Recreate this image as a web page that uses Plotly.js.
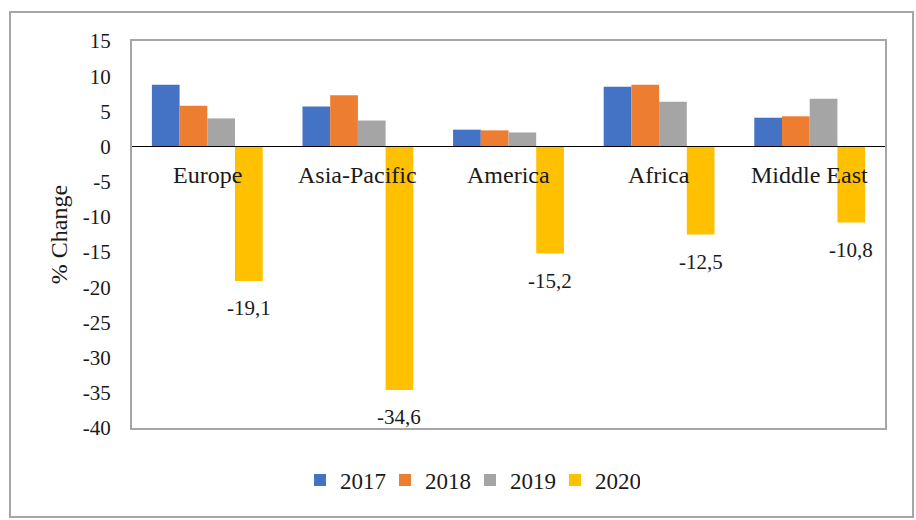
<!DOCTYPE html>
<html>
<head>
<meta charset="utf-8">
<script src="https://cdn.plot.ly/plotly-3.0.1.min.js"></script>
<style>
  html, body { margin: 0; padding: 0; background: #fff; }
  #wrap { position: relative; width: 916px; height: 520px; }
  #chart { width: 916px; height: 520px; }
  #frame { position: absolute; left: 9px; top: 11px; width: 901px; height: 503px;
           border: 2px solid #a6a6a6; pointer-events: none; }
</style>
</head>
<body>
<div id="wrap">
  <div id="chart"></div>
  <div id="frame"></div>
</div>
<script>
const categories = ["Europe", "Asia-Pacific", "America", "Africa", "Middle East"];
const years = ["2017", "2018", "2019", "2020"];
const v2017 = [8.8, 5.7, 2.4, 8.5, 4.1];
const v2018 = [5.8, 7.3, 2.3, 8.8, 4.3];
const v2019 = [4.0, 3.7, 2.0, 6.35, 6.8];
const v2020 = [-19.1, -34.6, -15.2, -12.5, -10.8];
const tickVals = [15, 10, 5, 0, -5, -10, -15, -20, -25, -30, -35, -40];
const tickText = ["15", "10", "5", "0", "-5", "-10", "-15", "-20", "-25", "-30", "-35", "-40"];

const colors = ["#4472C4", "#ED7D31", "#A5A5A5", "#FFC000"];
const series = [v2017, v2018, v2019, v2020];
const FONT = "Liberation Serif, Times New Roman, serif";
const TXT = "#1a1a1a";

const W = 916, H = 520;
const margin = { l: 132, r: 31, t: 41, b: 92 };
const bargap = 0.264;

const traces = series.map((vals, i) => ({
  type: "bar",
  name: years[i],
  x: categories,
  y: vals,
  marker: { color: colors[i], line: { width: 0 } },
  hoverinfo: "x+y+name"
}));

const plotW = W - margin.l - margin.r;
const plotH = H - margin.t - margin.b;
const catW = plotW / categories.length;
const barW = catW * (1 - bargap) / series.length;
const lastOffset = barW * 1.5;

const annotations = [];
categories.forEach((c) => {
  annotations.push({
    x: c, y: 0, xref: "x", yref: "y",
    text: c, showarrow: false,
    xanchor: "center", yanchor: "middle", yshift: -28,
    font: { family: FONT, size: 24, color: TXT }
  });
});
v2020.forEach((v, i) => {
  annotations.push({
    x: categories[i], y: v, xref: "x", yref: "y",
    text: String(v).replace(".", ","), showarrow: false,
    xanchor: "center", yanchor: "middle", xshift: lastOffset, yshift: -27,
    font: { family: FONT, size: 21, color: TXT }
  });
});

const layout = {
  width: W, height: H,
  margin: margin,
  paper_bgcolor: "#ffffff",
  plot_bgcolor: "#ffffff",
  barmode: "group",
  bargap: bargap,
  bargroupgap: 0,
  showlegend: true,
  legend: {
    orientation: "h",
    x: (470 - margin.l) / plotW, xanchor: "center",
    y: (428 - 480) / plotH, yanchor: "middle",
    font: { family: FONT, size: 23, color: TXT },
    itemwidth: 30,
    entrywidth: 40, entrywidthmode: "pixels",
    bgcolor: "rgba(0,0,0,0)"
  },
  xaxis: {
    type: "category",
    showticklabels: false,
    ticks: "",
    showgrid: false,
    zeroline: false,
    showline: true, mirror: true,
    linecolor: "#a6a6a6", linewidth: 2,
    fixedrange: true
  },
  yaxis: {
    range: [-40, 15],
    tickvals: tickVals,
    ticktext: tickText,
    ticks: "",
    ticklabelstandoff: 15,
    showgrid: false,
    zeroline: true, zerolinecolor: "#000000", zerolinewidth: 1,
    zerolinelayer: "above traces",
    showline: true, mirror: true,
    linecolor: "#a6a6a6", linewidth: 2,
    tickfont: { family: FONT, size: 21, color: TXT },
    title: { text: "% Change", font: { family: FONT, size: 24, color: TXT }, standoff: 8 },
    fixedrange: true
  },
  annotations: annotations,
  font: { family: FONT, color: TXT }
};

Plotly.newPlot("chart", traces, layout, { displayModeBar: false, staticPlot: true });
</script>
</body>
</html>
